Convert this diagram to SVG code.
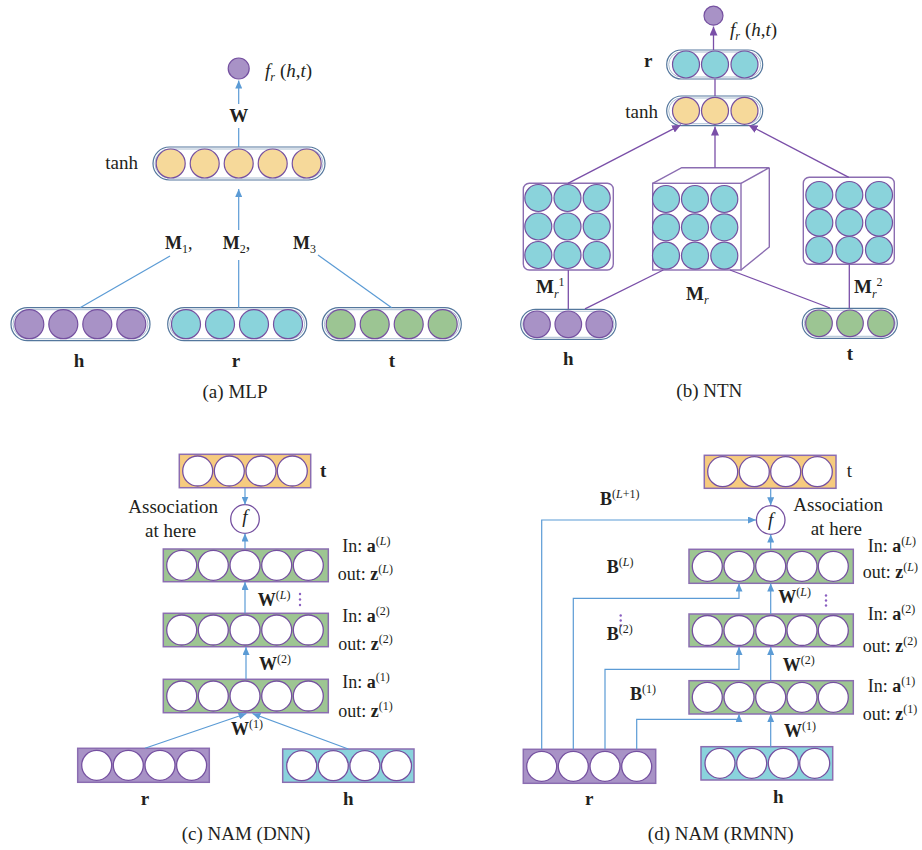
<svg xmlns="http://www.w3.org/2000/svg" width="922" height="850" viewBox="0 0 922 850" font-family="'Liberation Serif', 'DejaVu Serif', 'Noto Serif', serif">
<defs>
<style>
text{font-family:"Liberation Serif","DejaVu Serif","Noto Serif",serif;fill:#231F20;font-size:19px}
.bd{font-weight:bold}
.it{font-style:italic}
.sm{font-size:12px}
.lbl{font-size:18px}
.po{fill:#fff;stroke:#54779D;stroke-width:1.2}
.pi{fill:none;stroke:#97AEC6;stroke-width:0.8}
.cP{fill:#A892C6;stroke:#7550A0;stroke-width:1.2}
.cC{fill:#8AD3DB;stroke:#7550A0;stroke-width:1.2}
.cG{fill:#9CC593;stroke:#7550A0;stroke-width:1.2}
.cY{fill:#F6D99A;stroke:#7550A0;stroke-width:1.2}
.cW{fill:#fff;stroke:#7550A0;stroke-width:1.3}
.bx{stroke:#8B6DB1;stroke-width:1.5}
.mb{fill:#fff;stroke:#8B6DB1;stroke-width:1.4}
.lb{fill:none;stroke:#5B9BD5;stroke-width:1.2}
.lp{fill:none;stroke:#7A4FA8;stroke-width:1.3}
.dt{fill:#8A5FC0}
</style>
<marker id="ab" markerUnits="userSpaceOnUse" markerWidth="8" markerHeight="7" refX="8" refY="3.5" orient="auto"><path d="M0,0 L8,3.5 L0,7 z" fill="#5B9BD5"/></marker>
<marker id="ap" markerUnits="userSpaceOnUse" markerWidth="9" markerHeight="8" refX="9" refY="4" orient="auto"><path d="M0,0 L9,4 L0,8 z" fill="#7A4FA8"/></marker>
</defs>
<rect width="922" height="850" fill="#fff"/>

<!-- ============ (a) MLP ============ -->
<g id="a-out">
<circle cx="238.7" cy="68.5" r="10.5" class="cP"/>
<text x="265" y="77"><tspan class="it">f</tspan><tspan class="it sm" dy="4">r</tspan><tspan dy="-4" dx="5">(</tspan><tspan class="it">h</tspan>,<tspan class="it">t</tspan>)</text>
</g>
<g id="a-tanh">
<rect x="153" y="147" width="172" height="33" rx="16.5" class="po"/>
<rect x="155" y="149" width="168" height="29" rx="14.5" class="pi"/>
<circle cx="170.7" cy="163.5" r="14.5" class="cY"/>
<circle cx="204.7" cy="163.5" r="14.5" class="cY"/>
<circle cx="238.7" cy="163.5" r="14.5" class="cY"/>
<circle cx="272.7" cy="163.5" r="14.5" class="cY"/>
<circle cx="306.7" cy="163.5" r="14.5" class="cY"/>
<text x="138" y="169" text-anchor="end">tanh</text>
</g>
<g id="a-h">
<rect x="11" y="307.7" width="139" height="33" rx="16.5" class="po"/>
<rect x="13" y="309.7" width="135" height="29" rx="14.5" class="pi"/>
<circle cx="29.3" cy="324.2" r="14.5" class="cP"/>
<circle cx="63.3" cy="324.2" r="14.5" class="cP"/>
<circle cx="97.3" cy="324.2" r="14.5" class="cP"/>
<circle cx="131.3" cy="324.2" r="14.5" class="cP"/>
<text x="79" y="367" text-anchor="middle" class="bd">h</text>
</g>
<g id="a-r">
<rect x="167.7" y="307.7" width="139" height="33" rx="16.5" class="po"/>
<rect x="169.7" y="309.7" width="135" height="29" rx="14.5" class="pi"/>
<circle cx="186" cy="324.2" r="14.5" class="cC"/>
<circle cx="220" cy="324.2" r="14.5" class="cC"/>
<circle cx="254" cy="324.2" r="14.5" class="cC"/>
<circle cx="288" cy="324.2" r="14.5" class="cC"/>
<text x="236" y="367" text-anchor="middle" class="bd">r</text>
</g>
<g id="a-t">
<rect x="322.3" y="307.7" width="139" height="33" rx="16.5" class="po"/>
<rect x="324.3" y="309.7" width="135" height="29" rx="14.5" class="pi"/>
<circle cx="340.7" cy="324.2" r="14.5" class="cG"/>
<circle cx="374.7" cy="324.2" r="14.5" class="cG"/>
<circle cx="408.7" cy="324.2" r="14.5" class="cG"/>
<circle cx="442.7" cy="324.2" r="14.5" class="cG"/>
<text x="392" y="367" text-anchor="middle" class="bd">t</text>
</g>
<g id="a-labels">
<text x="238.7" y="122" text-anchor="middle" class="bd" font-size="21">W</text>
<text x="165" y="249" class="bd lbl">M<tspan class="sm" dy="4" font-weight="normal">1</tspan><tspan dy="-4" font-weight="normal">,</tspan></text>
<text x="222.7" y="249" class="bd lbl">M<tspan class="sm" dy="4" font-weight="normal">2</tspan><tspan dy="-4" font-weight="normal">,</tspan></text>
<text x="293" y="249" class="bd lbl">M<tspan class="sm" dy="4" font-weight="normal">3</tspan></text>
<text x="235" y="398" text-anchor="middle">(a) MLP</text>
</g>

<!-- ============ (b) NTN ============ -->
<g id="b-out">
<circle cx="713.5" cy="15.7" r="9.5" class="cP"/>
<text x="730" y="36"><tspan class="it">f</tspan><tspan class="it sm" dy="4">r</tspan><tspan dy="-4" dx="5">(</tspan><tspan class="it">h</tspan>,<tspan class="it">t</tspan>)</text>
</g>
<g id="b-r">
<rect x="666.7" y="50" width="96" height="29" rx="14.5" class="po"/>
<rect x="668.7" y="52" width="92" height="25" rx="12.5" class="pi"/>
<circle cx="686" cy="64.5" r="13.5" class="cC"/>
<circle cx="715" cy="64.5" r="13.5" class="cC"/>
<circle cx="744.5" cy="64.5" r="13.5" class="cC"/>
<text x="644" y="67" class="bd">r</text>
</g>
<g id="b-tanh">
<rect x="666.7" y="96" width="96" height="29.7" rx="14.8" class="po"/>
<rect x="668.7" y="98" width="92" height="25.7" rx="12.8" class="pi"/>
<circle cx="686" cy="110.8" r="13.5" class="cY"/>
<circle cx="715" cy="110.8" r="13.5" class="cY"/>
<circle cx="744.5" cy="110.8" r="13.5" class="cY"/>
<text x="658" y="118" text-anchor="end">tanh</text>
</g>
<g id="b-M1">
<rect x="523.3" y="183.3" width="90" height="86.7" rx="6" class="mb"/>
<circle cx="538.3" cy="198" r="13.5" class="cC"/>
<circle cx="567.5" cy="198" r="13.5" class="cC"/>
<circle cx="596.7" cy="198" r="13.5" class="cC"/>
<circle cx="538.3" cy="226.5" r="13.5" class="cC"/>
<circle cx="567.5" cy="226.5" r="13.5" class="cC"/>
<circle cx="596.7" cy="226.5" r="13.5" class="cC"/>
<circle cx="538.3" cy="255" r="13.5" class="cC"/>
<circle cx="567.5" cy="255" r="13.5" class="cC"/>
<circle cx="596.7" cy="255" r="13.5" class="cC"/>
</g>
<g id="b-Mr">
<path d="M652.7,183.3 L681.7,167.7 L769.3,167.7 L741,183.3 M769.3,167.7 L769.3,247 L741,270" fill="none" stroke="#8B6DB1" stroke-width="1.4"/>
<rect x="652.7" y="183.3" width="88.3" height="86.7" class="mb"/>
<circle cx="666" cy="199" r="13.5" class="cC"/>
<circle cx="695" cy="199" r="13.5" class="cC"/>
<circle cx="724.3" cy="199" r="13.5" class="cC"/>
<circle cx="666" cy="227.3" r="13.5" class="cC"/>
<circle cx="695" cy="227.3" r="13.5" class="cC"/>
<circle cx="724.3" cy="227.3" r="13.5" class="cC"/>
<circle cx="666" cy="255.7" r="13.5" class="cC"/>
<circle cx="695" cy="255.7" r="13.5" class="cC"/>
<circle cx="724.3" cy="255.7" r="13.5" class="cC"/>
</g>
<g id="b-M2">
<rect x="803.3" y="177.3" width="91" height="87" rx="6" class="mb"/>
<circle cx="819.3" cy="195" r="13.5" class="cC"/>
<circle cx="849.3" cy="195" r="13.5" class="cC"/>
<circle cx="879" cy="195" r="13.5" class="cC"/>
<circle cx="819.3" cy="222.7" r="13.5" class="cC"/>
<circle cx="849.3" cy="222.7" r="13.5" class="cC"/>
<circle cx="879" cy="222.7" r="13.5" class="cC"/>
<circle cx="819.3" cy="250" r="13.5" class="cC"/>
<circle cx="849.3" cy="250" r="13.5" class="cC"/>
<circle cx="879" cy="250" r="13.5" class="cC"/>
</g>
<g id="b-h">
<rect x="520.7" y="309.3" width="95.3" height="30" rx="15" class="po"/>
<rect x="522.7" y="311.3" width="91.3" height="26" rx="13" class="pi"/>
<circle cx="537" cy="324.3" r="13.3" class="cP"/>
<circle cx="568.3" cy="324.3" r="13.3" class="cP"/>
<circle cx="599.3" cy="324.3" r="13.3" class="cP"/>
<text x="568.3" y="365" text-anchor="middle" class="bd">h</text>
</g>
<g id="b-t">
<rect x="802.3" y="308.3" width="95" height="30" rx="15" class="po"/>
<rect x="804.3" y="310.3" width="91" height="26" rx="13" class="pi"/>
<circle cx="819" cy="323.3" r="13.3" class="cG"/>
<circle cx="850" cy="323.3" r="13.3" class="cG"/>
<circle cx="881" cy="323.3" r="13.3" class="cG"/>
<text x="850" y="360" text-anchor="middle" class="bd">t</text>
</g>
<g id="b-labels">
<text x="536" y="293" class="bd" font-size="20">M<tspan class="sm it" dy="4.5" font-weight="normal">r</tspan><tspan class="sm" dx="0" dy="-12" font-weight="normal">1</tspan></text>
<text x="686" y="300" class="bd" font-size="20">M<tspan class="sm it" dy="4" font-weight="normal">r</tspan></text>
<text x="854" y="293" class="bd" font-size="20">M<tspan class="sm it" dy="4.5" font-weight="normal">r</tspan><tspan class="sm" dx="0" dy="-12" font-weight="normal">2</tspan></text>
<text x="709.3" y="397" text-anchor="middle">(b) NTN</text>
</g>

<!-- ============ (c) NAM (DNN) ============ -->
<g id="c-t">
<rect x="179.3" y="454.3" width="131.4" height="33.4" fill="#F6CB7F" class="bx"/>
<circle cx="197.7" cy="471" r="15" class="cW"/>
<circle cx="229.3" cy="471" r="15" class="cW"/>
<circle cx="261" cy="471" r="15" class="cW"/>
<circle cx="292.3" cy="471" r="15" class="cW"/>
<text x="320" y="477" class="bd">t</text>
</g>
<g id="c-f">
<circle cx="245" cy="519" r="14.3" class="cW"/>
<text x="245" y="523" text-anchor="middle" class="it" font-size="11">f</text>
<text x="128.3" y="513.3">Association</text>
<text x="145" y="536.7">at here</text>
</g>
<g id="c-L">
<rect x="163.3" y="549" width="165" height="32.7" fill="#9DC592" class="bx"/>
<circle cx="181.7" cy="565.3" r="15" class="cW"/>
<circle cx="213.3" cy="565.3" r="15" class="cW"/>
<circle cx="245" cy="565.3" r="15" class="cW"/>
<circle cx="276.7" cy="565.3" r="15" class="cW"/>
<circle cx="308.3" cy="565.3" r="15" class="cW"/>
<text x="342.3" y="551.7" class="lbl">In: <tspan class="bd">a</tspan><tspan class="sm" dy="-7">(<tspan class="it">L</tspan>)</tspan></text>
<text x="337.7" y="580" class="lbl">out: <tspan class="bd">z</tspan><tspan class="sm" dy="-7">(<tspan class="it">L</tspan>)</tspan></text>
</g>
<g id="c-2">
<rect x="163.3" y="613.3" width="165" height="33.4" fill="#9DC592" class="bx"/>
<circle cx="181.7" cy="630" r="15" class="cW"/>
<circle cx="213.3" cy="630" r="15" class="cW"/>
<circle cx="245" cy="630" r="15" class="cW"/>
<circle cx="276.7" cy="630" r="15" class="cW"/>
<circle cx="308.3" cy="630" r="15" class="cW"/>
<text x="342.3" y="622" class="lbl">In: <tspan class="bd">a</tspan><tspan class="sm" dy="-7">(2)</tspan></text>
<text x="338.3" y="650" class="lbl">out: <tspan class="bd">z</tspan><tspan class="sm" dy="-7">(2)</tspan></text>
</g>
<g id="c-1">
<rect x="163.3" y="679.3" width="165" height="33.4" fill="#9DC592" class="bx"/>
<circle cx="181.7" cy="696" r="15" class="cW"/>
<circle cx="213.3" cy="696" r="15" class="cW"/>
<circle cx="245" cy="696" r="15" class="cW"/>
<circle cx="276.7" cy="696" r="15" class="cW"/>
<circle cx="308.3" cy="696" r="15" class="cW"/>
<text x="342.3" y="688.3" class="lbl">In: <tspan class="bd">a</tspan><tspan class="sm" dy="-7">(1)</tspan></text>
<text x="338.3" y="716.7" class="lbl">out: <tspan class="bd">z</tspan><tspan class="sm" dy="-7">(1)</tspan></text>
</g>
<g id="c-r">
<rect x="77.7" y="748.3" width="131.6" height="34" fill="#A892C6" class="bx"/>
<circle cx="96.7" cy="765.3" r="15" class="cW"/>
<circle cx="128.3" cy="765.3" r="15" class="cW"/>
<circle cx="160" cy="765.3" r="15" class="cW"/>
<circle cx="191.6" cy="765.3" r="15" class="cW"/>
<text x="145" y="805" text-anchor="middle" class="bd">r</text>
</g>
<g id="c-h">
<rect x="282.7" y="749" width="131.3" height="33.3" fill="#8AD3DC" class="bx"/>
<circle cx="301.7" cy="765.7" r="15" class="cW"/>
<circle cx="333.3" cy="765.7" r="15" class="cW"/>
<circle cx="364.9" cy="765.7" r="15" class="cW"/>
<circle cx="396.5" cy="765.7" r="15" class="cW"/>
<text x="348.3" y="805" text-anchor="middle" class="bd">h</text>
</g>
<g id="c-labels">
<text x="257.7" y="605.7" class="bd lbl">W<tspan class="sm" dy="-7" font-weight="normal">(<tspan class="it">L</tspan>)</tspan></text>
<circle cx="300" cy="594" r="1.2" class="dt"/><circle cx="300" cy="599.5" r="1.2" class="dt"/><circle cx="300" cy="605" r="1.2" class="dt"/>
<text x="259" y="670" class="bd lbl">W<tspan class="sm" dy="-7" font-weight="normal">(2)</tspan></text>
<text x="231" y="735" class="bd lbl">W<tspan class="sm" dy="-7" font-weight="normal">(1)</tspan></text>
<text x="246" y="840" text-anchor="middle">(c) NAM (DNN)</text>
</g>

<!-- ============ (d) NAM (RMNN) ============ -->
<g id="d-t">
<rect x="704.3" y="455.3" width="131.7" height="33" fill="#F6CB7F" class="bx"/>
<circle cx="722.7" cy="471.7" r="15" class="cW"/>
<circle cx="754.3" cy="471.7" r="15" class="cW"/>
<circle cx="785.7" cy="471.7" r="15" class="cW"/>
<circle cx="817.3" cy="471.7" r="15" class="cW"/>
<text x="846.7" y="477">t</text>
</g>
<g id="d-f">
<circle cx="770.7" cy="520" r="14.3" class="cW"/>
<text x="770.7" y="526" text-anchor="middle" class="it" font-size="17">f</text>
<text x="793.3" y="510.7">Association</text>
<text x="810.7" y="535">at here</text>
</g>
<g id="d-L">
<rect x="689" y="549.3" width="164.3" height="34" fill="#9DC592" class="bx"/>
<circle cx="707.3" cy="566.3" r="15" class="cW"/>
<circle cx="739" cy="566.3" r="15" class="cW"/>
<circle cx="770.7" cy="566.3" r="15" class="cW"/>
<circle cx="802" cy="566.3" r="15" class="cW"/>
<circle cx="833.3" cy="566.3" r="15" class="cW"/>
<text x="867.7" y="551.7" class="lbl">In: <tspan class="bd">a</tspan><tspan class="sm" dy="-7">(<tspan class="it">L</tspan>)</tspan></text>
<text x="862.7" y="578.3" class="lbl">out: <tspan class="bd">z</tspan><tspan class="sm" dy="-7">(<tspan class="it">L</tspan>)</tspan></text>
</g>
<g id="d-2">
<rect x="689" y="614" width="164.3" height="32.7" fill="#9DC592" class="bx"/>
<circle cx="707.3" cy="630.5" r="15" class="cW"/>
<circle cx="739" cy="630.5" r="15" class="cW"/>
<circle cx="770.7" cy="630.5" r="15" class="cW"/>
<circle cx="802" cy="630.5" r="15" class="cW"/>
<circle cx="833.3" cy="630.5" r="15" class="cW"/>
<text x="867.7" y="620" class="lbl">In: <tspan class="bd">a</tspan><tspan class="sm" dy="-7">(2)</tspan></text>
<text x="862.7" y="651.7" class="lbl">out: <tspan class="bd">z</tspan><tspan class="sm" dy="-7">(2)</tspan></text>
</g>
<g id="d-1">
<rect x="689" y="680.7" width="164.3" height="33.3" fill="#9DC592" class="bx"/>
<circle cx="707.3" cy="697.3" r="15" class="cW"/>
<circle cx="739" cy="697.3" r="15" class="cW"/>
<circle cx="770.7" cy="697.3" r="15" class="cW"/>
<circle cx="802" cy="697.3" r="15" class="cW"/>
<circle cx="833.3" cy="697.3" r="15" class="cW"/>
<text x="867.7" y="691.7" class="lbl">In: <tspan class="bd">a</tspan><tspan class="sm" dy="-7">(1)</tspan></text>
<text x="862.7" y="720" class="lbl">out: <tspan class="bd">z</tspan><tspan class="sm" dy="-7">(1)</tspan></text>
</g>
<g id="d-r">
<rect x="523.3" y="749.3" width="132.4" height="34" fill="#A892C6" class="bx"/>
<circle cx="541.7" cy="766.3" r="15" class="cW"/>
<circle cx="573.3" cy="766.3" r="15" class="cW"/>
<circle cx="605" cy="766.3" r="15" class="cW"/>
<circle cx="636.7" cy="766.3" r="15" class="cW"/>
<text x="589.3" y="805" text-anchor="middle" class="bd">r</text>
</g>
<g id="d-h">
<rect x="701" y="746.7" width="131.7" height="33.3" fill="#8AD3DC" class="bx"/>
<circle cx="720" cy="763.3" r="15" class="cW"/>
<circle cx="751.7" cy="763.3" r="15" class="cW"/>
<circle cx="783.3" cy="763.3" r="15" class="cW"/>
<circle cx="814.7" cy="763.3" r="15" class="cW"/>
<text x="778.3" y="803.3" text-anchor="middle" class="bd">h</text>
</g>
<g id="d-labels">
<text x="600" y="505" class="bd lbl">B<tspan class="sm" dy="-7" font-weight="normal">(<tspan class="it">L</tspan>+1)</tspan></text>
<text x="606.7" y="573.3" class="bd lbl">B<tspan class="sm" dy="-7" font-weight="normal">(<tspan class="it">L</tspan>)</tspan></text>
<circle cx="620.7" cy="615.5" r="1.2" class="dt"/><circle cx="620.7" cy="620.5" r="1.2" class="dt"/><circle cx="620.7" cy="625.5" r="1.2" class="dt"/>
<text x="606.7" y="640" class="bd lbl">B<tspan class="sm" dy="-7" font-weight="normal">(2)</tspan></text>
<text x="630" y="700" class="bd lbl">B<tspan class="sm" dy="-7" font-weight="normal">(1)</tspan></text>
<text x="778.3" y="603.3" class="bd lbl">W<tspan class="sm" dy="-7" font-weight="normal">(<tspan class="it">L</tspan>)</tspan></text>
<circle cx="826" cy="595.5" r="1.2" class="dt"/><circle cx="826" cy="600.5" r="1.2" class="dt"/><circle cx="826" cy="605.5" r="1.2" class="dt"/>
<text x="782.7" y="670.7" class="bd lbl">W<tspan class="sm" dy="-7" font-weight="normal">(2)</tspan></text>
<text x="784" y="736.7" class="bd lbl">W<tspan class="sm" dy="-7" font-weight="normal">(1)</tspan></text>
<text x="720.7" y="840" text-anchor="middle">(d) NAM (RMNN)</text>
</g>

<!-- ============ connectors ============ -->
<g id="connectors">
<line x1="238.7" y1="147" x2="238.7" y2="128" class="lb"/>
<line x1="238.7" y1="104" x2="238.7" y2="80.5" class="lb" marker-end="url(#ab)"/>
<line x1="238.7" y1="230" x2="238.7" y2="189" class="lb" marker-end="url(#ab)"/>
<line x1="238.7" y1="260" x2="238.7" y2="307.7" class="lb"/>
<line x1="170" y1="256" x2="80" y2="307.7" class="lb"/>
<line x1="318" y1="255" x2="391.7" y2="307.7" class="lb"/>
<line x1="713.5" y1="50" x2="713.5" y2="26.5" class="lp" marker-end="url(#ap)"/>
<line x1="715" y1="79" x2="715" y2="96" class="lp"/>
<line x1="568" y1="183.3" x2="681" y2="124.8" class="lp" marker-end="url(#ap)"/>
<line x1="715" y1="167.7" x2="715" y2="126.5" class="lp" marker-end="url(#ap)"/>
<line x1="848.8" y1="177.3" x2="748.5" y2="125" class="lp" marker-end="url(#ap)"/>
<line x1="568.3" y1="270" x2="568.3" y2="309.3" class="lp"/>
<line x1="663.3" y1="270" x2="585" y2="308.8" class="lp"/>
<line x1="730" y1="270" x2="830" y2="308" class="lp"/>
<line x1="849.3" y1="264.3" x2="849.3" y2="308.3" class="lp"/>
<line x1="245" y1="487.7" x2="245" y2="504.5" class="lb" marker-end="url(#ab)"/>
<line x1="245" y1="549" x2="245" y2="533.5" class="lb" marker-end="url(#ab)"/>
<line x1="245" y1="613.3" x2="245" y2="582" class="lb" marker-end="url(#ab)"/>
<line x1="246" y1="679.3" x2="246" y2="647" class="lb" marker-end="url(#ab)"/>
<line x1="145" y1="748.3" x2="246.5" y2="713.5" class="lb" marker-end="url(#ab)"/>
<line x1="348.3" y1="749" x2="252.5" y2="713.5" class="lb" marker-end="url(#ab)"/>
<line x1="770.7" y1="488.3" x2="770.7" y2="505.3" class="lb" marker-end="url(#ab)"/>
<line x1="770.7" y1="549.3" x2="770.7" y2="534.5" class="lb" marker-end="url(#ab)"/>
<line x1="770.7" y1="614" x2="770.7" y2="583.5" class="lb" marker-end="url(#ab)"/>
<line x1="770.7" y1="680.7" x2="770.7" y2="646.9" class="lb" marker-end="url(#ab)"/>
<line x1="770.7" y1="746.7" x2="770.7" y2="714.2" class="lb" marker-end="url(#ab)"/>
<polyline points="541.7,749.3 541.7,520 756,520" class="lb" marker-end="url(#ab)"/>
<polyline points="573.3,749.3 573.3,598.3 739,598.3 739,583.5" class="lb" marker-end="url(#ab)"/>
<polyline points="605,749.3 605,669.3 739,669.3 739,646.9" class="lb" marker-end="url(#ab)"/>
<polyline points="636.7,749.3 636.7,719.3 739,719.3 739,714.2" class="lb" marker-end="url(#ab)"/>
</g>
</svg>
